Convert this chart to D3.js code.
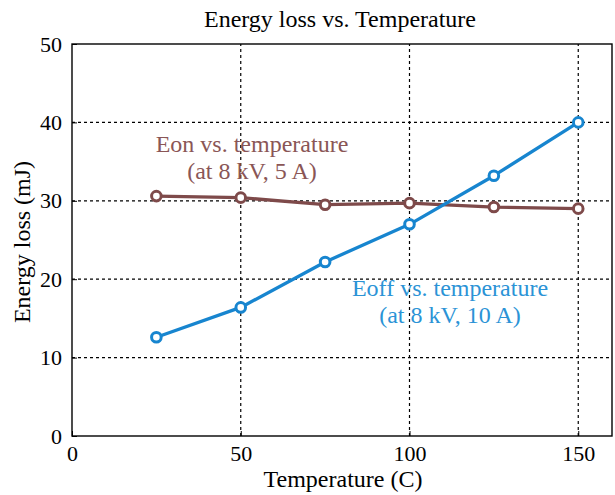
<!DOCTYPE html>
<html>
<head>
<meta charset="utf-8">
<script src="https://cdn.jsdelivr.net/npm/d3@7"></script>
<style>
  body { margin: 0; background: #fff; }
  svg text { font-family: "Liberation Serif", "Times New Roman", serif; fill: #000; }
</style>
</head>
<body>
<svg id="chart" width="615" height="495"></svg>
<script>
// Switching energy measured at each case temperature
const temperatures = [25, 50, 75, 100, 125, 150];
const eoffValues = [12.6, 16.4, 22.2, 27.0, 33.2, 40.0];
const eonValues = [30.6, 30.4, 29.5, 29.7, 29.2, 29.0];
const xTicks = [0, 50, 100, 150];
const yTicks = [0, 10, 20, 30, 40, 50];

const svg = d3.select("#chart");
const margin = { left: 72, right: 3, top: 44, bottom: 59 };
const W = 615, H = 495;

const x = d3.scaleLinear().domain([0, 160]).range([margin.left, W - margin.right]);
const y = d3.scaleLinear().domain([0, 50]).range([H - margin.bottom, margin.top]);

const x0 = x.range()[0], x1 = x.range()[1];
const y0 = y.range()[0], y1 = y.range()[1];

// dotted grid
const grid = svg.append("g");
grid.selectAll("line.v").data(xTicks.filter(d => d > 0)).join("line")
  .attr("x1", d => x(d)).attr("x2", d => x(d))
  .attr("y1", y0).attr("y2", y1)
  .attr("stroke", "#000").attr("stroke-width", 1.2).attr("stroke-dasharray", "3,3");
grid.selectAll("line.h").data(yTicks.filter(d => d > 0 && d < 50)).join("line")
  .attr("x1", x0).attr("x2", x1)
  .attr("y1", d => y(d)).attr("y2", d => y(d))
  .attr("stroke", "#000").attr("stroke-width", 1.2).attr("stroke-dasharray", "3,3");

// axes
const xAxis = d3.axisBottom(x).tickValues(xTicks).tickSize(-5).tickPadding(7).tickFormat(d3.format("d"));
const yAxis = d3.axisLeft(y).tickValues(yTicks).tickSize(-5).tickPadding(10).tickFormat(d3.format("d"));
const gx = svg.append("g").attr("transform", `translate(0,${y0})`).call(xAxis);
const gy = svg.append("g").attr("transform", `translate(${x0},0)`).call(yAxis);
[gx, gy].forEach(g => {
  g.select(".domain").remove();
  g.selectAll("text").style("font-size", "22px").attr("fill", "#000");
  g.selectAll("line").attr("stroke", "#000");
});
gx.selectAll("text").attr("dy", "0.8em");

// frame
svg.append("rect")
  .attr("x", x0).attr("y", y1).attr("width", x1 - x0).attr("height", y0 - y1)
  .attr("fill", "none").attr("stroke", "#000").attr("stroke-width", 1.4);

// series
const series = [
  { values: eonValues, color: "#7e4a4a" },
  { values: eoffValues, color: "#1785cf" }
];
const line = d3.line().x(d => x(d[0])).y(d => y(d[1]));
series.forEach(s => {
  const pts = temperatures.map((t, i) => [t, s.values[i]]);
  svg.append("path").datum(pts).attr("d", line)
    .attr("fill", "none").attr("stroke", s.color).attr("stroke-width", 3.3)
    .attr("stroke-linejoin", "round");
  svg.append("g").selectAll("circle").data(pts).join("circle")
    .attr("cx", d => x(d[0])).attr("cy", d => y(d[1])).attr("r", 4.8)
    .attr("fill", "#fff").attr("stroke", s.color).attr("stroke-width", 3);
});

// annotations
const note = (lines, cx, cy, color) => {
  const t = svg.append("text").attr("text-anchor", "middle").style("font-size", "24px");
  lines.forEach((l, i) => t.append("tspan").attr("x", cx).attr("y", cy + i * 27).text(l));
  t.style("fill", color);
};
note(["Eon vs. temperature", "(at 8 kV, 5 A)"], 252, 152, "#8a5656");
note(["Eoff vs. temperature", "(at 8 kV, 10 A)"], 450, 296, "#2b93d6");

// titles
svg.append("text").attr("x", 340).attr("y", 27).attr("text-anchor", "middle")
  .style("font-size", "24px").text("Energy loss vs. Temperature");
svg.append("text").attr("x", 343).attr("y", 487).attr("text-anchor", "middle")
  .style("font-size", "24px").text("Temperature (C)");
svg.append("text").attr("transform", "translate(30,242) rotate(-90)")
  .attr("text-anchor", "middle").style("font-size", "24px").text("Energy loss (mJ)");
</script>
</body>
</html>
